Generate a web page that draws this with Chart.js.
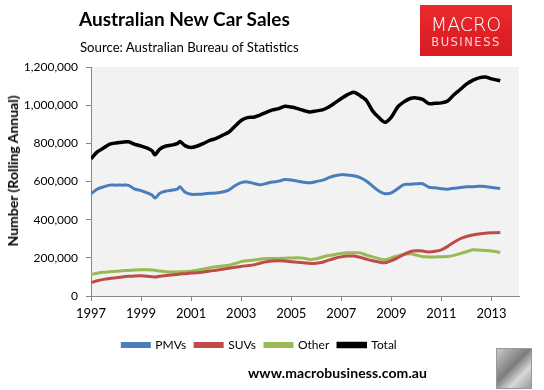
<!DOCTYPE html>
<html>
<head>
<meta charset="utf-8">
<script src="https://cdn.jsdelivr.net/npm/chart.js@4"></script>
<style>
  body { margin: 0; background: #fff; }
  #wrap { position: relative; width: 544px; height: 390px; font-family: Lato, "Noto Sans", sans-serif; }
  #grafico { position: absolute; left: 0; top: 0; }
  .txt { position: absolute; white-space: nowrap; color: #000; line-height: 1; }
  #titulo { left: 79px; top: 9px; font-size: 19px; font-weight: bold; }
  #fonte { left: 80px; top: 41px; font-size: 13.2px; }
  #eixoY { left: 13px; top: 171px; font-size: 14px; font-weight: bold; transform: translate(-50%, -50%) rotate(-90deg); }
  #logo { position: absolute; left: 420px; top: 5px; width: 92px; height: 51px;
          background: linear-gradient(#ea2a2e, #d71b21); text-align: center; color: #fff; }
  #logo .m { position: absolute; left: 0; right: 0; top: 10px; font-size: 19px; font-family: "DejaVu Sans", sans-serif; font-weight: 300; line-height: 1; }
  #logo .b { position: absolute; left: 0; right: 0; top: 32px; font-size: 11.5px; font-family: "DejaVu Sans", sans-serif; letter-spacing: 1.5px; color: #f6d4d4; line-height: 1; }
  #site { left: 248px; top: 366px; font-size: 14px; font-weight: bold; letter-spacing: 0.1px; }
  #lobo { position: absolute; left: 496px; top: 348px; width: 34px; height: 39px; border: 1px solid #999;
          background: linear-gradient(135deg, #c8c8c8, #7d7d7d 45%, #d8d8d8 70%, #9a9a9a); }
</style>
</head>
<body>
<div id="wrap">
  <canvas id="grafico" width="544" height="390"></canvas>
  <div class="txt" id="titulo">Australian New Car Sales</div>
  <div class="txt" id="fonte">Source: Australian Bureau of Statistics</div>
  <div class="txt" id="eixoY">Number (Rolling Annual)</div>
  <div id="logo"><div class="m">MACRO</div><div class="b">BUSINESS</div></div>
  <div class="txt" id="site">www.macrobusiness.com.au</div>
  <div id="lobo"></div>
</div>
<script>
// Datas (ano fracionado) e vendas em milhares (rolling annual)
var datas = [
  1997, 1997.25, 1997.5, 1997.75,
  1998, 1998.25, 1998.5, 1998.75,
  1999, 1999.25, 1999.45, 1999.55, 1999.75,
  2000, 2000.25, 2000.45, 2000.55, 2000.75,
  2001, 2001.25, 2001.5, 2001.75,
  2002, 2002.25, 2002.5, 2002.75,
  2003, 2003.25, 2003.5, 2003.75,
  2004, 2004.25, 2004.5, 2004.75,
  2005, 2005.25, 2005.5, 2005.75,
  2006, 2006.25, 2006.5, 2006.75,
  2007, 2007.25, 2007.5, 2007.75,
  2008, 2008.25, 2008.5, 2008.75,
  2009, 2009.25, 2009.5, 2009.75,
  2010, 2010.25, 2010.5, 2010.75,
  2011, 2011.25, 2011.5, 2011.75,
  2012, 2012.25, 2012.5, 2012.75,
  2013, 2013.35
]

var pmvs = [
  536, 560, 572, 581,
  581, 581, 580, 560,
  552, 540, 528, 513, 538,
  550, 555, 560, 573, 545,
  533, 533, 535, 538,
  540, 545, 555, 578,
  594, 598, 590, 583,
  590, 597, 602, 610,
  608, 602, 596, 593,
  600, 607, 620, 630,
  636, 634, 630, 620,
  603, 576, 550, 536,
  540, 562, 584, 585,
  588, 588, 570, 567,
  562, 560, 565, 568,
  573, 572, 575, 574,
  568, 564
]

var suvs = [
  70, 80, 87, 92,
  96, 100, 103, 105,
  106, 104, 101, 99, 103,
  108, 111, 113, 115, 117,
  120, 122, 126, 131,
  135, 140, 145, 150,
  155, 159, 163, 172,
  179, 184, 185, 183,
  180, 177, 174, 171,
  172, 177, 188, 198,
  205, 209, 210, 203,
  193, 185, 178, 174,
  185, 200, 218, 232,
  237, 236, 230, 234,
  242, 260, 282, 300,
  312, 320, 325, 329,
  331, 333
]

var outros = [
  113, 119, 124, 127,
  130, 132, 134, 136,
  137, 137, 136, 135, 131,
  127, 126, 126, 127, 127,
  130, 135, 141, 148,
  153, 157, 161, 170,
  180, 185, 189, 193,
  196, 197, 197, 198,
  199, 200, 198, 191,
  195, 204, 212, 218,
  223, 226, 227, 226,
  215, 205, 196, 190,
  200, 210, 218, 222,
  215, 206, 205, 205,
  206, 207, 213, 222,
  232, 242, 241, 239,
  236, 229
]

var total = [
  719, 755, 775, 796,
  802, 806, 808, 795,
  786, 775, 760, 740, 770,
  786, 792, 798, 810, 788,
  778, 786, 800, 815,
  826, 842, 858, 890,
  920, 935, 937, 948,
  962, 975, 982, 994,
  990, 982, 972, 964,
  970, 975, 990, 1012,
  1035, 1055, 1068, 1050,
  1025, 970, 935, 910,
  937, 990, 1017, 1035,
  1038, 1030, 1008, 1010,
  1012, 1022, 1055, 1082,
  1110, 1130, 1143, 1147,
  1138, 1128
]

var anosEixo = [1997, 1999, 2001, 2003, 2005, 2007, 2009, 2011, 2013]
var ticksY = [0, 200, 400, 600, 800, 1000, 1200]

function pontos(serie) {
    return datas.map((d, i) => ({ x: d, y: serie[i] }))
}

// Fundo cinza da área do gráfico
const fundoPlot = {
    id: 'fundoPlot',
    beforeDraw(chart) {
        const a = chart.chartArea
        const ctx = chart.ctx
        ctx.save()
        ctx.fillStyle = '#f2f2f2'
        ctx.fillRect(a.left, a.top, a.right - a.left, a.bottom - a.top)
        ctx.restore()
    }
}

function serie(nome, dados, cor, largura) {
    return {
        label: nome,
        data: pontos(dados),
        borderColor: cor,
        backgroundColor: cor,
        borderWidth: largura,
        pointRadius: 0,
        tension: 0.25,
        fill: false
    }
}

const ctx = document.getElementById('grafico').getContext('2d')
const grafico = new Chart(ctx, {
    type: 'line',
    data: {
        datasets: [
            serie('PMVs', pmvs, '#4a7ebb', 3),
            serie('SUVs', suvs, '#be4b48', 3),
            serie('Other', outros, '#98b954', 3),
            serie('Total', total, '#000000', 3.5)
        ]
    },
    plugins: [fundoPlot],
    options: {
        responsive: false,
        animation: false,
        layout: { padding: { top: 67, right: 25, left: 0, bottom: 29 } },
        plugins: {
            tooltip: { enabled: false },
            legend: {
                position: 'bottom',
                labels: {
                    boxWidth: 27,
                    boxHeight: 3,
                    padding: 9,
                    color: '#000',
                    font: { size: 12, family: 'Lato, "Noto Sans", sans-serif' }
                }
            }
        },
        scales: {
            x: {
                type: 'linear',
                min: 1997,
                max: 2014.1,
                afterBuildTicks: (scale) => { scale.ticks = anosEixo.map(v => ({ value: v })) },
                afterFit: (scale) => { scale.height = 34 },
                grid: { drawOnChartArea: false, drawTicks: true, tickLength: 5, color: '#868686' },
                border: { color: '#868686' },
                ticks: {
                    color: '#000',
                    padding: 5,
                    maxRotation: 0,
                    font: { size: 13, family: 'Lato, "Noto Sans", sans-serif' },
                    callback: (v) => String(v)
                }
            },
            y: {
                min: 0,
                max: 1200,
                afterBuildTicks: (scale) => { scale.ticks = ticksY.map(v => ({ value: v })) },
                afterFit: (scale) => { scale.width = 91 },
                grid: { drawOnChartArea: false, drawTicks: true, tickLength: 5, color: '#868686' },
                border: { color: '#868686' },
                ticks: {
                    color: '#000',
                    padding: 8,
                    font: { size: 12, family: 'Lato, "Noto Sans", sans-serif' },
                    callback: (v) => (v * 1000).toLocaleString('en-US')
                }
            }
        }
    }
})
</script>
</body>
</html>
